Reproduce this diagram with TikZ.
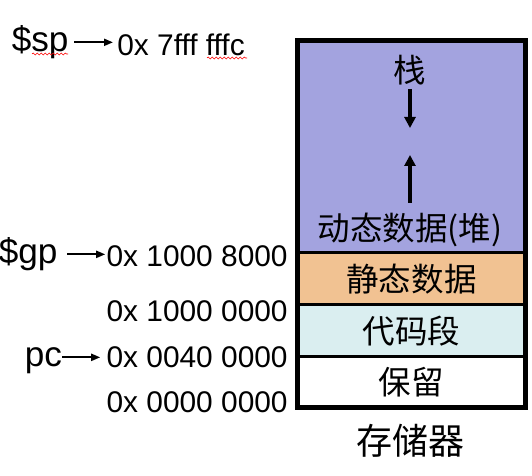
\documentclass[tikz,border=0pt]{standalone}
\usepackage{fontspec}
\setmainfont{Liberation Sans}
\newfontfamily\cjk{Noto Sans CJK SC}
\usepackage{tikz}
\usetikzlibrary{arrows.meta,positioning,decorations.pathmorphing}
\definecolor{heapblue}{RGB}{163,163,223}
\definecolor{staticorange}{RGB}{241,194,146}
\definecolor{codecyan}{RGB}{218,238,240}

\begin{document}
\begin{tikzpicture}[node distance=0pt,inner sep=0pt]
  \tikzstyle{seg}=[draw, line width=0.06cm, outer sep=0pt, minimum width=4.56cm, font=\cjk\fontsize{18.5pt}{20pt}\selectfont]
  \tikzstyle{txt}=[font=\cjk\fontsize{18.5pt}{20pt}\selectfont]
  \tikzstyle{reg}=[font=\fontsize{20pt}{23pt}\selectfont, text height=15pt, text depth=4pt]
  \tikzstyle{addr}=[font=\fontsize{17pt}{20pt}\selectfont]
  \tikzstyle{ptr}=[line width=0.04cm, -{Triangle[length=0.18cm,width=0.14cm]}]
  \tikzstyle{growarrow}=[line width=0.08cm, -{Triangle[length=0.22cm,width=0.22cm]}]
  \tikzstyle{spell}=[red, line width=0.35pt, decorate, decoration={snake, amplitude=0.02cm, segment length=0.08cm}]

  \useasboundingbox (0,0) rectangle (10.64,9.52);

  % memory layout
  \node[seg, fill=heapblue, minimum height=4.25cm] (heap) at (8.23,6.585) {};
  \node[seg, fill=staticorange, minimum height=1.03cm, below=of heap] (static) {静态数据};
  \node[seg, fill=codecyan, minimum height=1.05cm, below=of static] (code) {代码段};
  \node[seg, fill=white, minimum height=1.01cm, below=of code] (rsv) {保留};
  \draw[line width=0.1cm] (heap.north west) rectangle (rsv.south east);

  \node[txt] (zhan) at (8.20,8.12) {栈};
  \node[txt] (dui) at (8.20,4.92) {动态数据(堆)};
  \coordinate (sdown) at (8.20,6.96);
  \coordinate (hup) at (8.20,6.42);
  \draw[growarrow, shorten <=0.07cm] (zhan) -- (sdown);
  \draw[growarrow, shorten <=0.2cm] (dui) -- (hup);

  \node[txt, font=\cjk\fontsize{20.5pt}{22pt}\selectfont] (mem) at (8.21,0.70) {存储器};

  % addresses
  \node[addr, anchor=base west] (a7) at (2.34,8.40) {0x 7fff fffc};
  \node[addr, anchor=base east] (a18) at (5.76,4.18) {0x 1000 8000};
  \node[addr, anchor=base east] (a10) at (5.76,3.08) {0x 1000 0000};
  \node[addr, anchor=base east] (a04) at (5.76,2.16) {0x 0040 0000};
  \node[addr, anchor=base east] (a00) at (5.76,1.26) {0x 0000 0000};

  % registers
  \node[reg, anchor=base west] (sp) at (0.23,8.48) {\$sp};
  \node[reg, anchor=base west] (gp) at (-0.03,4.24) {\$gp};
  \node[reg, anchor=base west] (pc) at (0.49,2.18) {pc};
  \draw[ptr, shorten <=0.11cm, shorten >=0.08cm] (sp.east) -- (sp.east -| a7.west);
  \draw[ptr, shorten <=0.19cm, shorten >=0.02cm] (gp.east) -- (gp.east -| a18.west);
  \draw[ptr, shorten >=0.12cm] (pc.east) -- (pc.east -| a04.west);

  % spell-check marks
  \draw[spell] (0.64,8.44) -- (1.36,8.44);
  \draw[spell] (4.14,8.36) -- (4.94,8.36);
\end{tikzpicture}
\end{document}
